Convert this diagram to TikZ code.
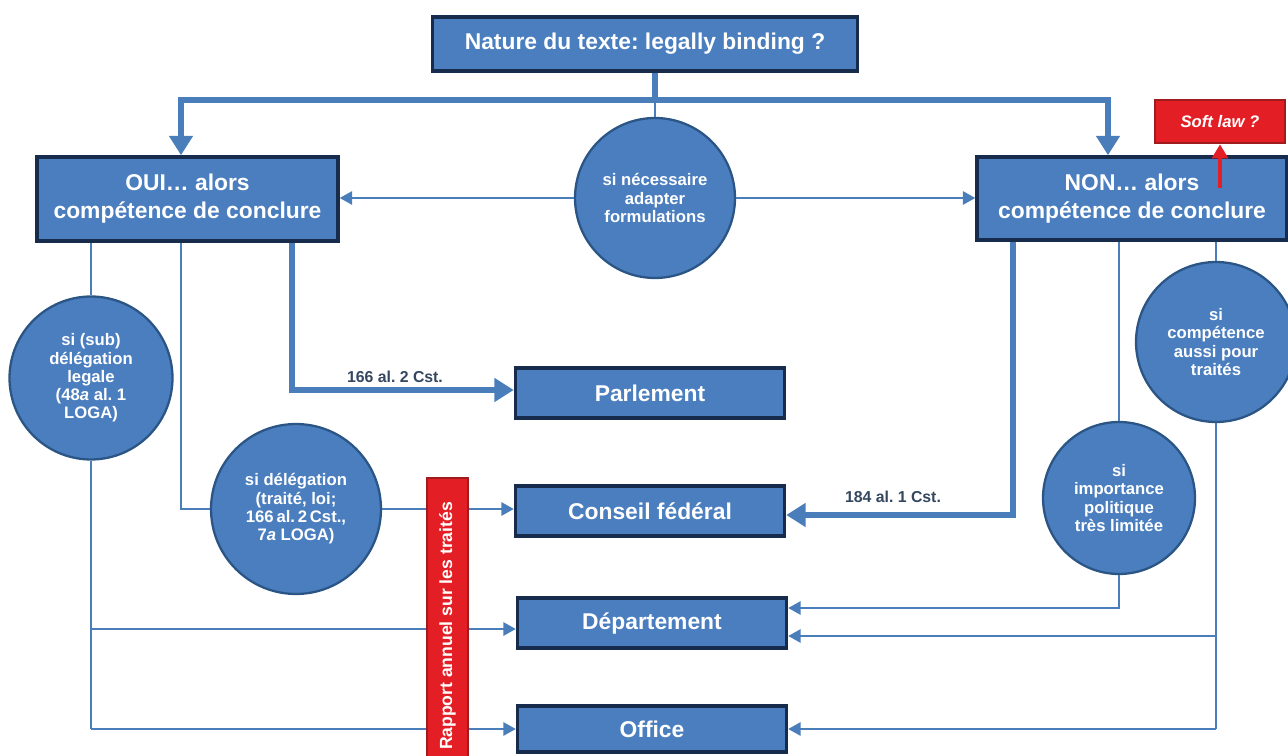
\documentclass[tikz,border=0pt]{standalone}
\usepackage{fontspec}
\setmainfont{Liberation Sans}
\usetikzlibrary{arrows.meta}
\definecolor{boxblue}{HTML}{4A7EBF}
\definecolor{boxedge}{HTML}{172B4D}
\definecolor{circedge}{HTML}{2B5585}
\definecolor{linkblue}{HTML}{4A7EBB}
\definecolor{alertred}{HTML}{E31E24}
\definecolor{alertedge}{HTML}{9E1B1E}
\definecolor{labelgrey}{HTML}{34475F}
\frenchspacing
\begin{document}
\begin{tikzpicture}[x=0.02cm,y=-0.02cm,
  box/.style={rectangle,draw=boxedge,line width=2pt,fill=boxblue,text=white,align=center,inner sep=0pt,
    font=\fontsize{13}{16}\selectfont\bfseries},
  bubble/.style={circle,draw=circedge,line width=1.3pt,fill=boxblue,text=white,align=center,inner sep=0pt,
    font=\fontsize{9.5}{10.4}\selectfont\bfseries},
  alert/.style={rectangle,draw=alertedge,line width=1.5pt,fill=alertred,text=white,inner sep=0pt,font=\bfseries},
  wire/.style={draw=linkblue,line width=1.2pt},
  wirearrow/.style={wire,-{Triangle[length=7pt,width=7.5pt]}},
  trunk/.style={draw=linkblue,line width=3.4pt},
  trunkarrow/.style={trunk,-{Triangle[length=11pt,width=13pt]}},
  lawlabel/.style={text=labelgrey,font=\fontsize{9}{11}\selectfont\bfseries}]
  \useasboundingbox (0,0) rectangle (1288,756);

  \node[box,minimum width=8.5cm,minimum height=1.08cm] (title) at (645,44) {Nature du texte: legally binding ?};
  \node[box,minimum width=6.02cm,minimum height=1.68cm] (oui) at (187.5,199) {OUI… alors\\compétence de conclure};
  \node[box,minimum width=6.2cm,minimum height=1.66cm] (non) at (1132,198.5) {NON… alors\\compétence de conclure};
  \node[box,minimum width=5.38cm,minimum height=1cm] (parl) at (650,393) {Parlement};
  \node[box,minimum width=5.38cm,minimum height=1cm] (cf) at (650,511) {Conseil fédéral};
  \node[box,minimum width=5.38cm,minimum height=1cm] (dep) at (652,623) {Département};
  \node[box,minimum width=5.38cm,minimum height=0.92cm] (off) at (652,729) {Office};

  \node[bubble,minimum size=3.2cm] (adapt) at (655,198) {si nécessaire\\adapter\\formulations};
  \node[bubble,minimum size=3.26cm] (sub) at (91,378) {si (sub)\\délégation\\legale\\(48\textit{a} al. 1\\LOGA)};
  \node[bubble,minimum size=3.4cm] (deleg) at (296,509) {si délégation\\(traité, loi;\\166\,al.\,2\,Cst.,\\7\textit{a} LOGA)};
  \node[bubble,minimum size=3.04cm] (impo) at (1119,498) {si\\importance\\politique\\très limitée};
  \node[bubble,minimum size=3.2cm] (comp) at (1216,342) {si\\compétence\\aussi pour\\traités};

  \node[alert,minimum width=2.6cm,minimum height=0.86cm,font=\fontsize{9.5}{11}\selectfont\bfseries\itshape] (soft) at (1220,121.5) {Soft law ?};

  \coordinate (bus) at (655,100);
  \coordinate (softfoot) at (1220,188);

  \draw[trunk] (adapt.north |- title.south) -- (bus);
  \draw[wire] (bus) -- (adapt.north);
  \draw[trunkarrow] (bus) -| ([xshift=-0.13cm]oui.north);
  \draw[trunkarrow] (bus) -| ([xshift=-0.48cm]non.north);
  \draw[wirearrow] (adapt.west) -- (adapt.west -| oui.east);
  \draw[wirearrow] (adapt.east) -- (adapt.east -| non.west);
  \draw[-{Triangle[length=8pt,width=9pt]},draw=alertred,line width=2.6pt] (softfoot) -- (soft.south);

  \draw[wire] (oui.south -| sub.north) -- (sub.north);
  \draw[wire] (sub.south) -- (sub.south |- off.west);
  \draw[wirearrow] (sub.south |- off.west) -- (off.west);
  \draw[wirearrow] ([yshift=-0.12cm]dep.west -| sub.south) -- ([yshift=-0.12cm]dep.west);
  \draw[wire] ([xshift=-0.13cm]oui.south) |- (deleg.west);
  \draw[wirearrow] (deleg.east) -- (deleg.east -| cf.west);
  \draw[trunkarrow] ([xshift=2.09cm]oui.south) |- ([yshift=0.06cm]parl.west);
  \node[lawlabel] (l166) at (395,377) {166 al. 2 Cst.};

  \draw[trunkarrow] ([xshift=-2.38cm]non.south) |- ([yshift=-0.08cm]cf.east);
  \node[lawlabel] (l184) at (893,497) {184 al. 1 Cst.};
  \draw[wire] (non.south -| impo.north) -- (impo.north);
  \draw[wirearrow] (impo.south) |- ([yshift=0.3cm]dep.east);
  \draw[wire] (non.south -| comp.north) -- (comp.north);
  \draw[wire] (comp.south) -- (comp.south |- off.east);
  \draw[wirearrow] (comp.south |- off.east) -- (off.east);
  \draw[wirearrow] ([yshift=-0.26cm]dep.east -| comp.south) -- ([yshift=-0.26cm]dep.east);

  \node[alert,rotate=90,minimum width=5.92cm,minimum height=0.82cm,font=\fontsize{10}{12}\selectfont\bfseries] (rapport) at (447.5,626) {Rapport annuel sur les traités};
\end{tikzpicture}
\end{document}
